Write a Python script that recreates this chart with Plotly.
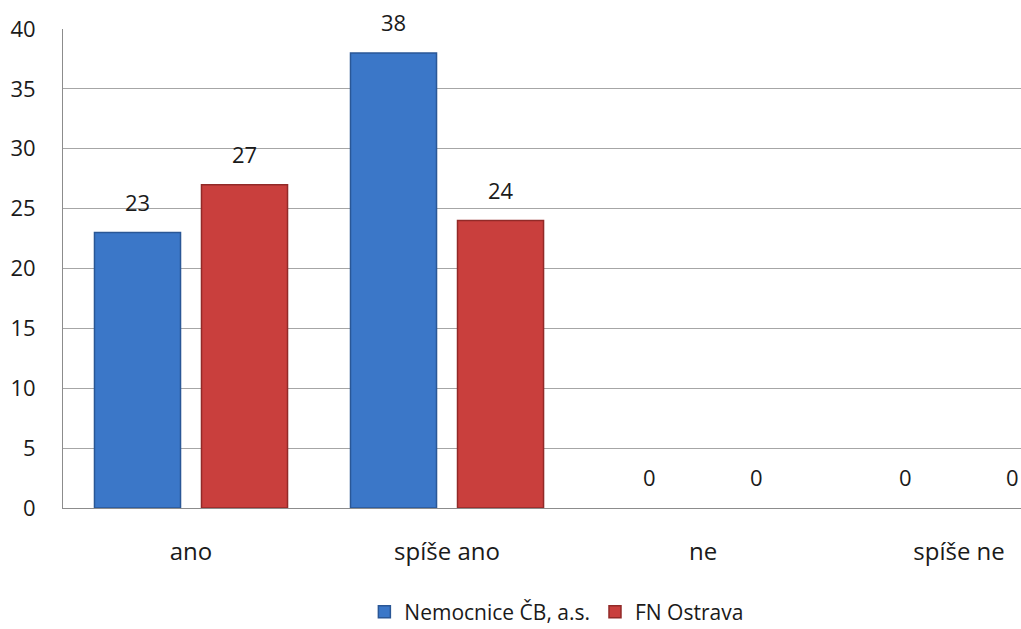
import plotly.graph_objects as go

categories = ["ano", "spíše ano", "ne", "spíše ne"]
nemocnice_cb = [23, 38, 0, 0]
fn_ostrava = [27, 24, 0, 0]
y_ticks = [0, 5, 10, 15, 20, 25, 30, 35, 40]

FONT = "Open Sans, Liberation Sans, sans-serif"
TEXT_COLOR = "#1a1a1a"
BAR_GAP = 0.164
GROUP_GAP = 0.196

series = [
    ("Nemocnice ČB, a.s.", nemocnice_cb, "#3B77C8", "#2A5796"),
    ("FN Ostrava", fn_ostrava, "#C93F3D", "#922A28"),
]

fig = go.Figure()
for name, values, fill, edge in series:
    fig.add_trace(go.Bar(
        name=name, x=categories, y=values,
        marker=dict(color=fill,
                    line=dict(color=edge, width=[1.5 if v > 0 else 0 for v in values])),
        hoverinfo="x+y+name",
    ))

# value labels above each bar, centred on the bar's slot inside its group
n = len(series)
slot = (1 - BAR_GAP) / n
annotations = []
for k, (name, values, fill, edge) in enumerate(series):
    offset = -(1 - BAR_GAP) / 2 + slot * (k + 0.5)
    for i, v in enumerate(values):
        annotations.append(dict(
            x=i + offset, y=v, xref="x", yref="y",
            text=str(v), showarrow=False,
            yanchor="bottom", yshift=14,
            font=dict(family=FONT, size=22, color=TEXT_COLOR),
        ))

fig.update_layout(
    width=1021, height=629,
    margin=dict(l=63, r=0, t=29, b=121, autoexpand=False),
    paper_bgcolor="white", plot_bgcolor="white",
    barmode="group", bargap=BAR_GAP, bargroupgap=GROUP_GAP,
    font=dict(family=FONT, size=22, color=TEXT_COLOR),
    annotations=annotations,
    showlegend=True,
    legend=dict(
        orientation="h", x=0.515, xanchor="center",
        yref="container", y=0.027, yanchor="middle",
        font=dict(family=FONT, size=21, color=TEXT_COLOR),
        traceorder="normal", itemwidth=30, tracegroupgap=0,
    ),
    xaxis=dict(
        range=[-0.5, 3.242],
        showgrid=False, zeroline=False,
        showline=True, linecolor="#8c8c8c", linewidth=1,
        ticks="", ticklabelstandoff=22,
        tickfont=dict(family=FONT, size=24, color=TEXT_COLOR),
        automargin=False,
    ),
    yaxis=dict(
        range=[0, 40], tickvals=y_ticks,
        showgrid=True, gridcolor="#a6a6a6", gridwidth=1,
        zeroline=False,
        showline=True, linecolor="#8c8c8c", linewidth=1,
        ticks="", ticklabelstandoff=22,
        tickfont=dict(family=FONT, size=22, color=TEXT_COLOR),
        automargin=False,
    ),
)

fig.write_html("out.html")
